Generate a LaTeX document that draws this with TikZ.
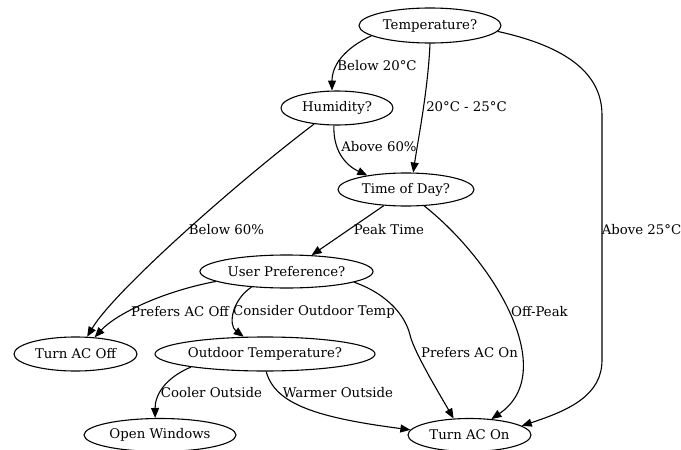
\documentclass[tikz,border=0pt]{standalone}
\usepackage{fontspec}
\setmainfont{DejaVu Serif}
\usetikzlibrary{shapes.geometric,arrows.meta}
\begin{document}
\begin{tikzpicture}[x=1pt,y=-1pt,
  every node/.style={font=\fontsize{13.3}{15}\selectfont},
  dnode/.style={draw, ellipse, inner sep=0pt, line width=1.1pt},
  lbl/.style={inner sep=0pt, anchor=center},
  edge/.style={draw, line width=1.1pt, -{Triangle[length=10pt,width=8pt]}}]
\useasboundingbox (0,0) rectangle (681,450);
\node[dnode, minimum width=142pt, minimum height=35pt] (temp) at (430,25.5) {Temperature?};
\node[dnode, minimum width=112pt, minimum height=34pt] (hum) at (337,108) {Humidity?};
\node[dnode, minimum width=136pt, minimum height=33pt] (tod) at (406,189.5) {Time of Day?};
\node[dnode, minimum width=173pt, minimum height=33pt] (up) at (286.5,271.5) {User Preference?};
\node[dnode, minimum width=123pt, minimum height=34pt] (off) at (75.5,354) {Turn AC Off};
\node[dnode, minimum width=220pt, minimum height=34pt] (out) at (265,354) {Outdoor Temperature?};
\node[dnode, minimum width=152pt, minimum height=33pt] (win) at (160,435) {Open Windows};
\node[dnode, minimum width=123pt, minimum height=33pt] (on) at (469.5,435) {Turn AC On};

\path[edge] (temp.190) .. controls (345,48) and (332,65) .. (hum.106);
\path[edge] (temp.270) .. controls (428,90) and (418,140) .. (tod.67);
\path[edge] (temp.-5.5) .. controls (560,45) and (602,70) .. (602,115) -- (602,360) .. controls (602,395) and (570,410) .. (on.10);
\path[edge] (hum.260) .. controls (333,150) and (345,165) .. (tod.160);
\path[edge] (hum.215) .. controls (240,180) and (115,290) .. (off.56);
\path[edge] (tod.216) -- (up.33);
\path[edge] (tod.-42.6) .. controls (495,262) and (560,372) .. (on.36);
\path[edge] (up.188) .. controls (160,292) and (115,315) .. (off.41);
\path[edge] (up.204) .. controls (232,300) and (228,325) .. (out.141);
\path[edge] (up.-9.8) .. controls (390,295) and (406,318) .. (410,335) .. controls (414,352) and (440,395) .. (on.134);
\path[edge] (out.190) .. controls (165,378) and (155,395) .. (win.106);
\path[edge] (out.274) .. controls (275,405) and (320,418) .. (on.175);

\node[lbl] (l1) at (377,66) {Below 20°C};
\node[lbl] (l2) at (466.5,107) {20°C - 25°C};
\node[lbl] (l3) at (641.5,230) {Above 25°C};
\node[lbl] (l4) at (379,147) {Above 60\%};
\node[lbl] (l5) at (226.5,230) {Below 60\%};
\node[lbl] (l6) at (389,230) {Peak Time};
\node[lbl] (l7) at (539.5,312) {Off-Peak};
\node[lbl] (l8) at (180,312) {Prefers AC Off};
\node[lbl] (l9) at (314,312) {Consider Outdoor Temp};
\node[lbl] (l10) at (469.5,353) {Prefers AC On};
\node[lbl] (l11) at (211.5,393) {Cooler Outside};
\node[lbl] (l12) at (338,393) {Warmer Outside};
\end{tikzpicture}
\end{document}
